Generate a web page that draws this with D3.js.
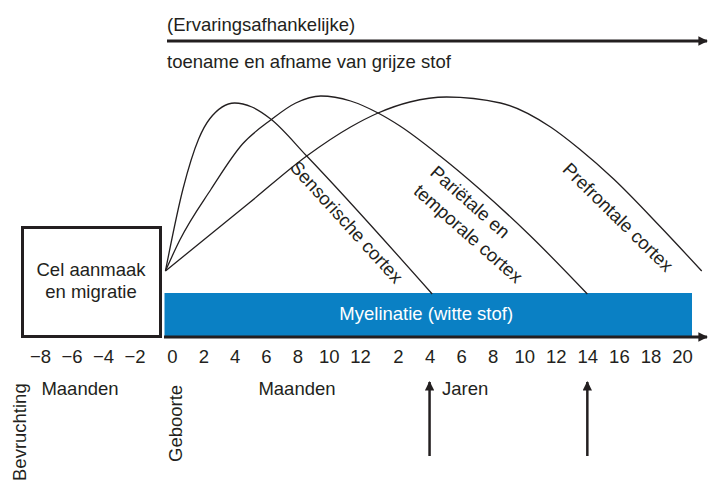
<!DOCTYPE html>
<html>
<head>
<meta charset="utf-8">
<script src="https://cdn.jsdelivr.net/npm/d3@7"></script>
<style>
body{margin:0;background:#fff;}
svg{display:block;font-family:"Liberation Sans",Arial,sans-serif;}
</style>
</head>
<body>
<div id="chart"></div>
<script>
// tijd in maanden vanaf de geboorte (jaren staan er als maanden in)
var monthTicks = [-8,-6,-4,-2,0,2,4,6,8,10,12];
var yearTicks = [2,4,6,8,10,12,14,16,18,20];
var arrowYears = [4,14];

// grijze stof: [maand, relatief niveau]
var sensorisch = [[-0.35,11.5],[0.7,52.5],[1.7,77.5],[2.4,87.5],[4,95.5],[5.1,93.5],[6.3,87.5],[8.6,69],[50,0]];
var parietaal = [[-0.35,11.5],[0.5,27],[2.5,52.5],[4.5,75],[6.3,87],[7.9,95.5],[9.5,99],[11.4,96.5],[17.7,90.5],[25.5,84],[56,69],[86,52.5],[124,29.5],[168,0]];
var prefrontaal = [[-0.35,11.5],[5,46],[8.6,69],[11.4,83.5],[17.7,90.5],[33,96],[61,98.5],[102,95.5],[140,83.5],[162,72.5],[188,57.5],[223,34],[255,11.5]];

// witte stof balk: van / tot (maanden)
var myelinatie = [-0.4, 247.6];

var width = 708, height = 485;
var ink = "#231f20";
var blue = "#0a80c4";
var fs = "18.5px";

var svg = d3.select("#chart").append("svg")
    .attr("width", width)
    .attr("height", height);

var x = d3.scaleLinear()
    .domain([-8, -2, 0, 12, 24, 240])
    .range([40, 134.5, 172, 360, 398, 682]);

var y = d3.scaleLinear()
    .domain([0, 100])
    .range([294, 94]);

var defs = svg.append("defs");
defs.append("marker")
    .attr("id", "head")
    .attr("viewBox", "0 0 10 10")
    .attr("refX", 9).attr("refY", 5)
    .attr("markerWidth", 3.2).attr("markerHeight", 4)
    .attr("markerUnits", "strokeWidth")
    .attr("orient", "auto")
    .append("path")
    .attr("d", "M0,0L10,5L0,10Z")
    .style("fill", ink);
defs.append("marker")
    .attr("id", "headUp")
    .attr("viewBox", "0 0 10 10")
    .attr("refX", 9).attr("refY", 5)
    .attr("markerWidth", 6).attr("markerHeight", 3.8)
    .attr("markerUnits", "strokeWidth")
    .attr("orient", "auto")
    .append("path")
    .attr("d", "M0,0L10,5L0,10Z")
    .style("fill", ink);

// kop
svg.append("text")
    .attr("x", 167).attr("y", 31)
    .text("(Ervaringsafhankelijke)")
    .style("font-size", fs).style("fill", ink);
svg.append("line")
    .attr("x1", 167).attr("x2", 707)
    .attr("y1", 41).attr("y2", 41)
    .style("stroke", ink).style("stroke-width", 3)
    .attr("marker-end", "url(#head)");
svg.append("text")
    .attr("x", 167).attr("y", 68)
    .text("toename en afname van grijze stof")
    .style("font-size", fs).style("fill", ink);

// cel aanmaak
svg.append("rect")
    .attr("x", 22.5).attr("y", 227.5)
    .attr("width", 138).attr("height", 109)
    .style("fill", "#fff")
    .style("stroke", ink).style("stroke-width", 3);
svg.append("text")
    .attr("x", 91).attr("y", 276)
    .attr("text-anchor", "middle")
    .style("font-size", fs).style("fill", ink)
    .text("Cel aanmaak");
svg.append("text")
    .attr("x", 91).attr("y", 298)
    .attr("text-anchor", "middle")
    .style("font-size", fs).style("fill", ink)
    .text("en migratie");

// myelinatie
svg.append("rect")
    .attr("x", x(myelinatie[0]))
    .attr("y", y(0) - 1)
    .attr("width", x(myelinatie[1]) - x(myelinatie[0]))
    .attr("height", 336 - y(0) + 1)
    .style("fill", blue);
svg.append("text")
    .attr("x", (x(myelinatie[0]) + x(myelinatie[1])) / 2 - 2)
    .attr("y", 320)
    .attr("text-anchor", "middle")
    .style("font-size", fs).style("fill", "#fff")
    .text("Myelinatie (witte stof)");

// curves
var line = d3.line()
    .x(function (d) { return x(d[0]); })
    .y(function (d) { return y(d[1]); })
    .curve(d3.curveMonotoneX);

[sensorisch, parietaal, prefrontaal].forEach(function (c) {
    svg.append("path")
        .attr("d", line(c))
        .style("fill", "none")
        .style("stroke", ink)
        .style("stroke-width", 1.3);
});

var labels = [
    {lines: ["Sensorische cortex"], m: 7.47, v: 63, angle: 47.8},
    {lines: ["Pariëtale en", "temporale cortex"], m: 47.6, v: 60, angle: 41.5},
    {lines: ["Prefrontale cortex"], m: 148.4, v: 61.7, angle: 44.5}
];
labels.forEach(function (l) {
    var g = svg.append("g")
        .attr("transform", "translate(" + x(l.m) + "," + y(l.v) + ") rotate(" + l.angle + ")");
    l.lines.forEach(function (t, i) {
        g.append("text")
            .attr("x", 0).attr("y", i * 25)
            .style("font-size", fs).style("fill", ink)
            .text(t);
    });
});

// as
svg.append("line")
    .attr("x1", 164).attr("x2", 707)
    .attr("y1", 337).attr("y2", 337)
    .style("stroke", ink).style("stroke-width", 3)
    .attr("marker-end", "url(#head)");

var fmt = function (d) { return d < 0 ? "\u2212" + Math.abs(d) : String(d); };

var axM = svg.append("g")
    .attr("transform", "translate(0,337)")
    .call(d3.axisBottom(x).tickValues(monthTicks).tickSize(0).tickPadding(13).tickFormat(fmt));
var axY = svg.append("g")
    .attr("transform", "translate(0,337)")
    .call(d3.axisBottom(x).tickValues(yearTicks.map(function (d) { return d * 12; }))
        .tickSize(0).tickPadding(13)
        .tickFormat(function (d) { return String(d / 12); }));
[axM, axY].forEach(function (a) {
    a.select(".domain").remove();
    a.selectAll("text")
        .style("font-size", fs)
        .style("font-family", "inherit")
        .style("fill", ink);
});

// eenheden
svg.append("text").attr("x", 80).attr("y", 395).attr("text-anchor", "middle")
    .style("font-size", fs).style("fill", ink).text("Maanden");
svg.append("text").attr("x", 297).attr("y", 395).attr("text-anchor", "middle")
    .style("font-size", fs).style("fill", ink).text("Maanden");
svg.append("text").attr("x", 442).attr("y", 395)
    .style("font-size", fs).style("fill", ink).text("Jaren");

svg.append("text")
    .attr("transform", "translate(26,481) rotate(-90)")
    .style("font-size", fs).style("fill", ink).text("Bevruchting");
svg.append("text")
    .attr("transform", "translate(182,462) rotate(-90)")
    .style("font-size", fs).style("fill", ink).text("Geboorte");

// pijlen
svg.selectAll(".pijl")
    .data(arrowYears)
    .enter().append("line")
    .attr("class", "pijl")
    .attr("x1", function (d) { return x(d * 12); })
    .attr("x2", function (d) { return x(d * 12); })
    .attr("y1", 456).attr("y2", 382)
    .style("stroke", ink).style("stroke-width", 2.5)
    .attr("marker-end", "url(#headUp)");
</script>
</body>
</html>
